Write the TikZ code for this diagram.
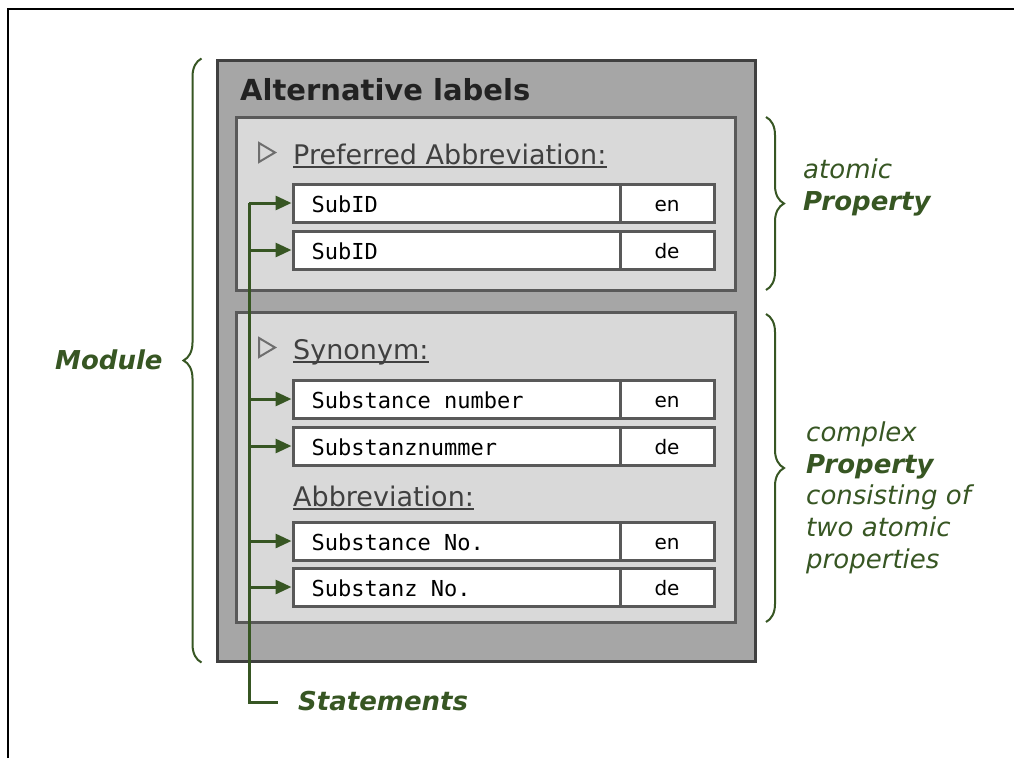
\documentclass[tikz,border=0pt]{standalone}
\usepackage{fontspec}
\setmainfont{DejaVu Sans}
\setmonofont{DejaVu Sans Mono}
\usetikzlibrary{arrows.meta, decorations.pathreplacing}
\definecolor{modgray}{HTML}{A6A6A6}
\definecolor{propgray}{HTML}{D9D9D9}
\definecolor{edgegray}{HTML}{595959}
\definecolor{darkedge}{HTML}{404040}
\definecolor{markgray}{HTML}{6E6E6E}
\definecolor{titlegray}{HTML}{222222}
\definecolor{stmtgreen}{HTML}{375623}

\begin{document}
\begin{tikzpicture}[x=1pt, y=-1pt, >={Triangle[length=16pt,width=14pt]},
  modbox/.style={draw=darkedge, line width=3pt, fill=modgray, inner sep=0pt},
  propbox/.style={draw=edgegray, line width=3pt, fill=propgray, inner sep=0pt},
  row/.style={draw=edgegray, line width=3pt, fill=white, minimum width=421pt, minimum height=38pt, inner sep=0pt},
  langcell/.style={draw=edgegray, line width=3pt, minimum width=94pt, minimum height=38pt, inner sep=0pt,
    text height=16pt, text depth=0pt, font=\fontsize{20}{24}\selectfont},
  valtext/.style={anchor=west, inner sep=0pt, text height=18pt, text depth=0pt, font=\ttfamily\fontsize{22}{26}\selectfont},
  hdr/.style={anchor=base west, inner sep=0pt, text=darkedge, font=\fontsize{27}{32}\selectfont},
  note/.style={anchor=base west, inner sep=0pt, align=left, text=stmtgreen, font=\itshape\fontsize{26}{32}\selectfont},
  stmt/.style={stmtgreen, line width=3pt},
  curly/.style={stmtgreen, line width=2pt, decorate, decoration={brace, amplitude=18pt}},
  marker/.style={draw=markgray, line width=2pt, fill=propgray, line join=miter}]
  \useasboundingbox (0,0) rectangle (1014,758);
  \draw[line width=2pt] (8,758) -- (8,9) -- (1014,9);

  \node[modbox, minimum width=538pt, minimum height=601pt] (module) at (486,360.5) {};
  \node[anchor=base west, inner sep=0pt, text=titlegray, font=\bfseries\fontsize{29}{34}\selectfont] (title) at (240,100) {Alternative labels};
  \node[propbox, minimum width=499pt, minimum height=173pt] (atomic) at (485.5,203.5) {};
  \node[propbox, minimum width=499pt, minimum height=310pt] (complex) at (485.5,467) {};

  \draw[marker] (259,143) -- (275,152.5) -- (259,162) -- cycle;
  \draw[marker] (259,338) -- (275,347.5) -- (259,357) -- cycle;
  \node[hdr] (prefhdr) at (293,164) {Preferred Abbreviation:};
  \node[hdr] (synhdr) at (293,359) {Synonym:};
  \node[hdr] (abbhdr) at (293,506) {Abbreviation:};
  \foreach \h in {prefhdr, synhdr, abbhdr}
    \draw[darkedge, line width=2pt] ([yshift=-3pt]\h.base west) -- ([yshift=-3pt]\h.base east);

  \foreach \y/\n/\v/\l in {203/r1/SubID/en, 250/r2/SubID/de, 399/r3/Substance number/en,
      446/r4/Substanznummer/de, 541/r5/Substance No./en, 587/r6/Substanz No./de} {
    \node[row] (\n) at (503.5,\y) {};
    \node[langcell, anchor=east] (\n l) at (\n.east) {\l};
    \node[valtext] (\n v) at ([xshift=20pt]\n.west) {\v};
    \coordinate (t\n) at (249,\y);
    \draw[stmt, ->] (t\n) -- (\n.west);
  }

  \node[note, font=\bfseries\itshape\fontsize{26}{32}\selectfont] (stmts) at (298,710) {Statements};
  \coordinate (tend) at (278,702);
  \draw[stmt] (tr1) |- (tend);

  \draw[curly] ([xshift=-14pt]module.south west) -- ([xshift=-14pt]module.north west);
  \node[note, font=\bfseries\itshape\fontsize{26}{32}\selectfont] (modlabel) at (55,369) {Module};
  \draw[curly] (766,117) -- (766,290);
  \node[note] (atomlabel) at (803,210) {atomic\\\textbf{Property}};
  \draw[curly] (766,314) -- (766,622);
  \node[note, font=\itshape\fontsize{26}{31.6}\selectfont] (cpxlabel) at (806,568) {complex\\\textbf{Property}\\consisting of\\two atomic\\properties};
\end{tikzpicture}
\end{document}
